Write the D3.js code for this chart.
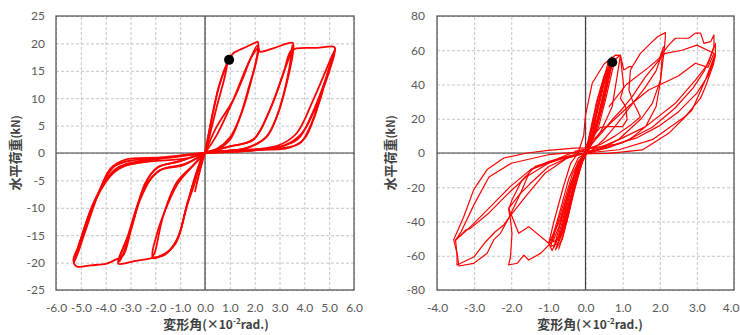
<!DOCTYPE html>
<html>
<head>
<meta charset="utf-8">
<script src="https://cdn.jsdelivr.net/npm/d3@7"></script>
<style>
  body { margin: 0; background: #fff; }
  svg { display: block; }
</style>
</head>
<body>
<svg id="chart" width="740" height="335"></svg>
<script>
// tick values
const leftXTicks = [-6, -5, -4, -3, -2, -1, 0, 1, 2, 3, 4, 5, 6];
const leftYTicks = [-25, -20, -15, -10, -5, 0, 5, 10, 15, 20, 25];
const rightXTicks = [-4, -3, -2, -1, 0, 1, 2, 3, 4];
const rightYTicks = [-80, -60, -40, -20, 0, 20, 40, 60, 80];

// left specimen, [drift (x10^-2 rad), load (kN)]
const leftLoop0 = [[0,0],[0.3,7],[0.55,12],[0.9,16.5],[0.8,14],[0.45,8],[0.15,2.5],[0,0],[-0.2,-3],[-0.4,-7],[-0.3,-5],[-0.1,-1.5],[0,0]];
const leftLoop1 = [[0,0],[0.12,2.8],[0.34,7.8],[0.6,12.7],[0.97,17.0],[1.14,18.2],[1.68,19.4],[2.05,20.2],[2.12,20.3],[2.15,18.8],[2.0,15.5],[1.81,12.7],[1.41,6.6],[1.0,2.4],[0.47,0.6],[0,0],
  [-0.2,-2.2],[-0.45,-6],[-0.74,-9.8],[-1.0,-14.5],[-1.2,-16.6],[-1.6,-18.4],[-2.12,-19.2],[-2.01,-18.0],[-1.69,-11.6],[-1.14,-5.4],[-0.47,-2.2],[0,0]];
const leftLoop2 = [[0,0],[0.47,4.8],[1.14,9.7],[1.6,14.5],[1.81,17],[2.1,19.6],[2.12,18.5],[1.85,13],[1.45,7],[1.0,2.8],[0.5,0.8],[0,0],
  [-0.25,-2.4],[-0.7,-9],[-1.1,-15.5],[-1.5,-18],[-2.1,-19.0],[-1.95,-15],[-1.65,-11],[-1.1,-5.6],[-0.5,-2.4],[0,0]];
const leftLoop3 = [[0,0],[0.5,3.5],[1.14,9.7],[1.81,17],[2.15,19.2],[2.21,18.5],[2.8,19.2],[3.53,20.1],[3.56,19.2],[3.29,12.7],[2.89,6.6],[2.48,3.0],[1.68,0.9],[0.6,0.3],[0,0],
  [-0.3,-3],[-0.74,-9.8],[-1.14,-16],[-1.6,-18.5],[-2.15,-19.2],[-2.8,-19.7],[-3.49,-20.2],[-3.45,-19],[-3.15,-15.9],[-2.62,-8.6],[-2.21,-4.9],[-1.81,-3.1],[-0.87,-2.2],[0,0]];
const leftLoop4 = [[0,0],[1.0,1.2],[1.95,2.4],[2.62,7.9],[3.15,14.5],[3.49,18.8],[3.52,19.6],[3.5,18.5],[3.25,12.3],[2.85,6.2],[2.45,2.8],[1.6,0.8],[0,0],
  [-1.0,-1.5],[-1.9,-2.6],[-2.4,-5.5],[-2.95,-13.5],[-3.3,-18.5],[-3.45,-19.8],[-3.4,-18.6],[-3.1,-15],[-2.6,-8],[-2.15,-4.5],[-1.7,-2.9],[-0.8,-2.0],[0,0]];
const leftLoop5 = [[0,0],[1.0,1.2],[1.95,2.5],[2.6,7.8],[3.15,14.4],[3.45,18.6],[3.69,19.1],[4.5,19.2],[5.17,19.4],[5.24,19.1],[5.1,17.6],[4.36,9.7],[3.69,3.6],[3.02,1.5],[1.95,0.6],[0,0],
  [-1.0,-1.5],[-1.9,-2.6],[-2.4,-5.5],[-2.95,-13.5],[-3.3,-18.7],[-3.62,-19.5],[-3.96,-20.2],[-4.6,-20.5],[-5.17,-20.7],[-5.3,-19.5],[-5.1,-17.1],[-4.5,-9.2],[-3.83,-4.3],[-3.29,-2.5],[-2.35,-1.6],[-0.74,-1.0],[0,0]];
const leftLoop6 = [[0,0],[1.5,0.6],[3.15,0.9],[3.83,1.8],[4.2,4.5],[4.63,9.7],[5.0,15.5],[5.17,17.6],[5.24,18.8],[5.15,17.0],[4.5,8.8],[3.9,3.6],[3.2,1.4],[2.0,0.5],[0,0],
  [-1.5,-0.9],[-3.0,-1.4],[-3.6,-2.3],[-4.0,-4.5],[-4.6,-11],[-5.0,-16.5],[-5.25,-19.8],[-5.2,-18.5],[-4.95,-15],[-4.4,-8.5],[-3.75,-3.8],[-3.2,-2.1],[-2.2,-1.3],[0,0]];
const leftLoop7 = [[0,0],[1.8,0.5],[3.4,1.0],[4.0,2.6],[4.4,6.5],[4.8,12.5],[5.1,17],[5.22,18.6],[5.05,16.0],[4.3,7.0],[3.75,2.6],[3.0,1.1],[1.5,0.3],[0,0],
  [-1.8,-0.8],[-3.2,-1.2],[-3.8,-2.8],[-4.3,-7.5],[-4.8,-14],[-5.2,-19.2],[-5.05,-16.5],[-4.6,-10.5],[-4.05,-5.2],[-3.5,-2.6],[-2.6,-1.5],[0,0]];
const leftDot = [[0.97, 17.0]];

// right specimen
const rightLoopA = [[0,0],[0.15,14],[0.35,33],[0.55,47],[0.72,53],[0.62,44],[0.45,28],[0.25,12],[0.05,2],[-0.15,-6],[-0.4,-25],[-0.65,-45],[-0.85,-55],[-0.75,-47],[-0.5,-28],[-0.25,-10],[0,0]];
const rightLoopB = [[0,0],[0.2,16],[0.42,36],[0.62,50],[0.75,55],[0.66,46],[0.5,30],[0.3,14],[0.1,3],[-0.1,-4],[-0.3,-18],[-0.55,-40],[-0.75,-53],[-0.94,-54.5],[-0.82,-46],[-0.6,-30],[-0.35,-12],[-0.1,-2],[0,0]];
const rightLoopC = [[0.05,0],[0.3,22],[0.5,40],[0.68,52],[0.8,55],[0.72,48],[0.55,32],[0.35,15],[0.1,4],[-0.05,-3],[-0.25,-15],[-0.45,-35],[-0.63,-50.6],[-0.81,-56.5],[-0.7,-50],[-0.5,-35],[-0.28,-15],[-0.05,-2],[0.05,0]];
const rightLoopD = [[-0.2,0],[-0.05,10],[0,22],[0.18,40.7],[0.5,52],[0.81,57.2],[0.94,57],[0.85,44.6],[0.72,27.2],[0.4,12],[0.1,3],[-0.13,-3.9],[-0.4,-20],[-0.6,-38],[-0.75,-50],[-0.9,-57],[-0.99,-52.7],[-0.85,-40],[-0.6,-20],[-0.4,-6],[-0.2,0]];
const rightLoopE = [[0,0],[0.25,20],[0.45,38],[0.6,48],[0.7,51],[0.58,40],[0.4,24],[0.2,9],[0,1],[-0.2,-10],[-0.45,-32],[-0.6,-46],[-0.72,-52],[-0.62,-42],[-0.42,-24],[-0.2,-7],[0,0]];
const rightLoopF = [[0,0],[0.1,10],[0.3,30],[0.5,45],[0.65,52],[0.55,40],[0.35,22],[0.15,8],[-0.05,-2],[-0.3,-22],[-0.5,-40],[-0.7,-50],[-0.88,-52],[-0.7,-42],[-0.45,-22],[-0.2,-5],[0,0]];
const rightLoopG = [[0.1,2],[0.25,18],[0.45,40],[0.6,52],[0.7,56],[0.6,46],[0.4,26],[0.2,10],[0,0],[-0.3,-20],[-0.55,-44],[-0.72,-56],[-0.6,-48],[-0.35,-25],[-0.1,-6],[0.1,2]];
const rightPos2a = [[0,0],[0.3,18],[0.6,45],[0.72,53],[0.94,57.2],[1.03,48.5],[1.17,50.4],[1.26,50.4],[1.48,58.2],[1.75,64],[1.95,68],[2.15,70.3],[2.15,67],[2.11,58.2],[2.02,42.6],[1.8,29],[1.5,20],[1.17,13.4],[0.9,8],[0.54,3.7],[0.2,1],[0,0]];
const rightPos2b = [[0,0],[0.18,5.8],[0.45,12],[0.72,19.5],[1.0,26],[1.26,32.9],[1.6,44],[1.98,54.3],[2.1,62],[2.05,57],[1.9,48],[1.6,38],[1.2,27],[0.85,17],[0.5,8],[0.2,2],[0,0]];
const rightJagA = [[0.94,57],[0.99,46.5],[1.03,38.7],[0.94,31.9],[1.08,27.2],[1.12,19.5],[1.0,15.4],[0.62,15.4],[0.4,15],[0.2,10],[0,4]];
const rightJagB = [[1.26,50.4],[1.21,48.5],[1.17,36.8],[1.26,31],[1.48,21.2],[1.2,16],[0.8,10],[0.4,5],[0,2]];
const rightPos3a = [[0,0],[0.6,3],[1.2,8],[1.62,15.4],[1.9,27],[2.02,42],[2.07,58.2],[2.24,63],[2.42,67],[2.78,67],[2.96,70],[3.1,70],[3.19,64],[3.37,65],[3.46,68.9],[3.46,62.3],[3.3,52],[2.96,42.6],[2.42,29],[1.62,15.4],[0.9,7.8],[0.3,2.5],[0,0]];
const rightPos3b = [[0,0],[0.9,1.9],[1.8,7.8],[2.69,21.4],[3.1,32],[3.23,38.7],[3.45,52],[3.5,58.2],[3.5,64],[3.4,58],[3.2,48],[2.9,38],[2.4,26],[1.8,15],[1.0,6],[0.3,1.5],[0,0]];
const rightPos3c = [[-0.3,-0.5],[0.63,-0.2],[1.53,1.8],[2.24,11.5],[2.87,25.1],[3.23,42.6],[3.5,58.2],[3.48,55],[3.3,45],[3.0,35],[2.5,24],[2.0,16],[1.4,9],[0.8,5],[0.2,3],[-0.3,1]];
const rightPos3d = [[0.63,27],[1.1,40],[1.7,50],[2.15,58.2],[2.6,60],[3.0,63],[3.46,58.2],[3.3,50],[2.96,52.4],[2.5,45],[1.7,36.8],[1.2,28],[0.8,20],[0.4,12],[0.1,5]];
const rightNeg2a = [[0,2],[-0.5,-1],[-0.9,-4.9],[-1.35,-7.8],[-1.71,-15.8],[-1.98,-27.4],[-2.07,-33],[-2.02,-39.1],[-1.98,-46.9],[-2.02,-60.6],[-2.07,-65.4],[-1.84,-64.4],[-1.66,-59.6],[-1.53,-62.5],[-1.21,-58.6],[-0.94,-52.7],[-0.7,-35],[-0.45,-15],[-0.2,-3],[0,0]];
const rightNeg2b = [[0,0],[-0.5,-2],[-1.0,-5],[-1.48,-9.7],[-1.75,-23.5],[-2.07,-32.3],[-1.8,-46.9],[-1.53,-43],[-0.99,-52.7],[-0.7,-40],[-0.4,-18],[-0.1,-3],[0,0]];
const rightNeg3a = [[0.3,3],[-0.31,2.9],[-1.0,1.5],[-1.57,0],[-2.2,-2.9],[-2.65,-9.7],[-3.01,-21.4],[-3.28,-37.2],[-3.55,-50.6],[-3.46,-58.6],[-3.41,-66],[-3.01,-64.4],[-2.65,-58.6],[-2.47,-50.6],[-2.29,-46.9],[-2.07,-38.1],[-1.75,-23.5],[-1.48,-17.7],[-1.0,-8],[-0.5,-3],[0,0]];
const rightNeg3b = [[0,0],[-0.76,-3.9],[-1.48,-9.7],[-2.02,-19.5],[-2.56,-31.3],[-3.14,-44],[-3.5,-50.8],[-3.46,-60],[-3.46,-65.4],[-3.0,-60.6],[-2.69,-51.8],[-2.43,-46],[-2.2,-42],[-2.0,-36],[-1.6,-25],[-1.1,-12],[-0.5,-3],[0,0]];
const rightNeg3c = [[0,1],[-1.0,-1],[-2.0,-6],[-2.6,-14],[-3.0,-30],[-3.35,-46],[-3.5,-51],[-3.23,-45],[-3.1,-44],[-2.6,-35],[-2.1,-24],[-1.6,-14],[-1.0,-6],[-0.3,-1]];
const rightDot = [[0.72, 53]];

const leftLoops = [leftLoop0, leftLoop1, leftLoop2, leftLoop3, leftLoop4, leftLoop5, leftLoop6, leftLoop7];
const rightLoops = [rightLoopA, rightLoopB, rightLoopC, rightLoopD, rightLoopE, rightLoopF, rightLoopG, rightPos2a, rightPos2b, rightJagA, rightJagB,
  rightPos3a, rightPos3b, rightPos3c, rightPos3d, rightNeg2a, rightNeg2b, rightNeg3a, rightNeg3b, rightNeg3c];

const svg = d3.select('#chart');

function drawPanel(opt) {
  const x = d3.scaleLinear().domain(opt.xDomain).range([opt.left, opt.right]);
  const y = d3.scaleLinear().domain(opt.yDomain).range([opt.bottom, opt.top]);
  const h = opt.bottom - opt.top;
  const w = opt.right - opt.left;
  const g = svg.append('g');

  // dashed grid
  g.append('g')
    .attr('transform', `translate(0,${opt.bottom})`)
    .call(d3.axisBottom(x).tickValues(opt.xTicks).tickSize(-h).tickFormat(''))
    .call(s => s.select('.domain').remove())
    .selectAll('line').attr('stroke', '#c4c4c4').attr('stroke-dasharray', '3,2');
  g.append('g')
    .attr('transform', `translate(${opt.left},0)`)
    .call(d3.axisLeft(y).tickValues(opt.yTicks).tickSize(-w).tickFormat(''))
    .call(s => s.select('.domain').remove())
    .selectAll('line').attr('stroke', '#c4c4c4').attr('stroke-dasharray', '3,2');

  // zero lines
  g.append('line').attr('x1', x(0)).attr('x2', x(0)).attr('y1', opt.top).attr('y2', opt.bottom)
    .attr('stroke', '#404040').attr('stroke-width', 1.2);
  g.append('line').attr('x1', opt.left).attr('x2', opt.right).attr('y1', y(0)).attr('y2', y(0))
    .attr('stroke', '#404040').attr('stroke-width', 1.2);

  // loops
  const line = d3.line().x(d => x(d[0])).y(d => y(d[1])).curve(opt.curve);
  g.append('g').selectAll('path')
    .data(opt.loops)
    .join('path')
    .attr('d', line)
    .attr('fill', 'none')
    .attr('stroke', '#ff0000')
    .attr('stroke-width', opt.lw)
    .attr('stroke-linejoin', 'round');

  g.selectAll('circle.pt')
    .data(opt.dot)
    .join('circle')
    .attr('class', 'pt')
    .attr('cx', d => x(d[0]))
    .attr('cy', d => y(d[1]))
    .attr('r', 5)
    .attr('fill', '#000');

  // frame
  g.append('rect')
    .attr('x', opt.left).attr('y', opt.top).attr('width', w).attr('height', h)
    .attr('fill', 'none').attr('stroke', '#595959').attr('stroke-width', 1.3);

  // tick labels
  const xl = g.append('g')
    .attr('transform', `translate(0,${opt.bottom})`)
    .call(d3.axisBottom(x).tickValues(opt.xTicks).tickSize(0).tickPadding(13).tickFormat(d => d.toFixed(1)))
    .call(s => s.select('.domain').remove());
  xl.selectAll('text').attr('font-size', 12).attr('fill', '#595959').attr('font-family', 'Lato, sans-serif');
  // last label sits on the page edge, keep it inside
  if (opt.right > 720) {
    xl.selectAll('text').filter(d => d === opt.xDomain[1]).attr('text-anchor', 'end').attr('dx', 5);
  }
  g.append('g')
    .attr('transform', `translate(${opt.left},0)`)
    .call(d3.axisLeft(y).tickValues(opt.yTicks).tickSize(0).tickPadding(opt.left - opt.yLabelRight).tickFormat(d => String(d)))
    .call(s => s.select('.domain').remove())
    .selectAll('text').attr('font-size', 12).attr('fill', '#595959').attr('font-family', 'Lato, sans-serif');

  // axis titles
  const xt = g.append('text')
    .attr('x', opt.xTitleX).attr('y', 329)
    .attr('text-anchor', 'middle')
    .attr('fill', '#404040')
    .attr('font-weight', 'bold')
    .attr('font-family', '"Noto Sans CJK JP", sans-serif');
  xt.append('tspan').attr('font-size', 13).text('変形角');
  xt.append('tspan').attr('font-size', 12).text('(×10');
  xt.append('tspan').attr('font-size', 8).attr('dy', -5).text('-2');
  xt.append('tspan').attr('font-size', 12).attr('dy', 5).text('rad.)');

  const yt = g.append('text')
    .attr('transform', `translate(${opt.yTitleX},${(opt.top + opt.bottom) / 2}) rotate(-90)`)
    .attr('text-anchor', 'middle')
    .attr('fill', '#404040')
    .attr('font-weight', 'bold')
    .attr('font-family', '"Noto Sans CJK JP", sans-serif');
  yt.append('tspan').attr('font-size', 13).text('水平荷重');
  yt.append('tspan').attr('font-size', 11).text('(kN)');
}

drawPanel({
  left: 56, right: 354, top: 16, bottom: 290,
  xDomain: [-6, 6], yDomain: [-25, 25],
  xTicks: leftXTicks, yTicks: leftYTicks,
  yLabelRight: 45, xTitleX: 216, yTitleX: 20,
  loops: leftLoops, dot: leftDot,
  curve: d3.curveCatmullRom.alpha(0.5), lw: 1.8
});

drawPanel({
  left: 437, right: 734, top: 16, bottom: 290,
  xDomain: [-4, 4], yDomain: [-80, 80],
  xTicks: rightXTicks, yTicks: rightYTicks,
  yLabelRight: 425, xTitleX: 590, yTitleX: 395,
  loops: rightLoops, dot: rightDot,
  curve: d3.curveLinear, lw: 1.2
});
</script>
</body>
</html>
